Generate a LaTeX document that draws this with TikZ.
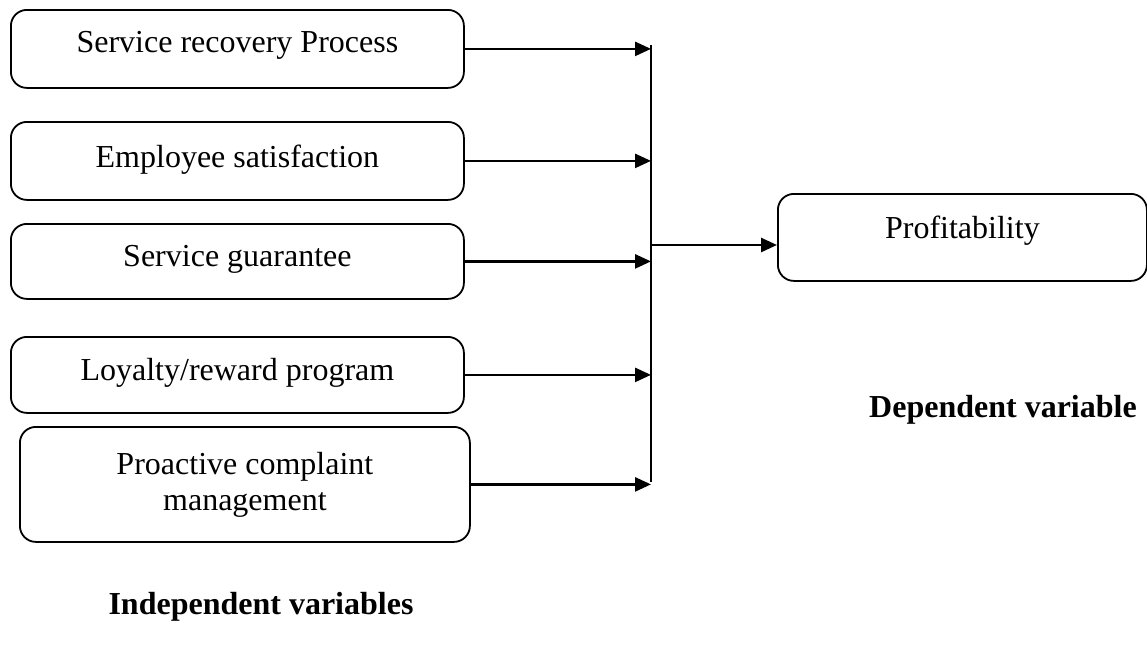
\documentclass[tikz,border=0pt]{standalone}
\usepackage{fontspec}
\setmainfont{Liberation Serif}
\usetikzlibrary{arrows.meta}
\begin{document}
\begin{tikzpicture}[x=0.5pt,y=-0.5pt,
  box/.style={draw,line width=0.9pt,rounded corners=8pt,inner ysep=0pt,inner xsep=0pt,
    anchor=north west,font=\fontsize{16}{18}\selectfont,align=center},
  arr/.style={line width=1.3pt,-{Triangle[length=8pt,width=7pt]}},
  lbl/.style={font=\fontsize{16}{18}\selectfont\bfseries}]
\useasboundingbox (0,0) rectangle (1147,653);
\node[box,minimum width=226.5pt,text height=21.5pt,text depth=17.5pt] (b1) at (10,9) {Service recovery Process};
\node[box,minimum width=226.5pt,text height=23pt,text depth=16pt] (b2) at (10,121) {Employee satisfaction};
\node[box,minimum width=226.5pt,text height=21.5pt,text depth=16pt] (b3) at (10,223) {Service guarantee};
\node[box,minimum width=226.5pt,text height=22pt,text depth=16pt] (b4) at (10,336) {Loyalty/reward program};
\node[box,minimum width=225pt,minimum height=57.5pt] (b5) at (19,426) {Proactive complaint\\management};
\node[box,minimum width=184.5pt,text height=22.5pt,text depth=21pt] (prof) at (777,193) {Profitability};
\coordinate (bt) at (651,45);
\coordinate (bb) at (651,482);
\coordinate (j) at (651,245);
\draw[line width=1pt] (bt) -- (bb);
\draw[arr] (b1.east) -- (b1.east -| bt);
\draw[arr] (b2.east) -- (b2.east -| bt);
\draw[arr] (b3.east) -- (b3.east -| bt);
\draw[arr] (b4.east) -- (b4.east -| bt);
\draw[arr] (b5.east) -- (b5.east -| bt);
\draw[arr] (j) -- (j -| prof.west);
\node[lbl] (dep) at (1003,410) {Dependent variable};
\node[lbl] (ind) at (261,607) {Independent variables};
\end{tikzpicture}
\end{document}
